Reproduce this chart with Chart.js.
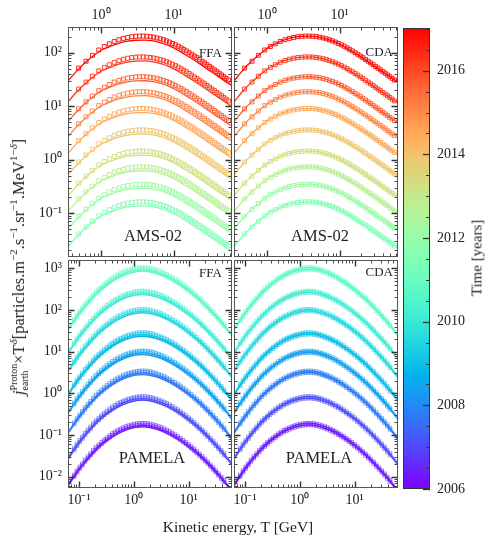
<!DOCTYPE html>
<html>
<head>
<meta charset="utf-8">
<script src="https://cdn.jsdelivr.net/npm/chart.js@4.4.1/dist/chart.umd.min.js"></script>
<style>
  body { margin: 0; background: #fff; }
  #wrap { position: relative; width: 488px; height: 541px; font-family: 'Liberation Serif', serif; color: #222; }
  #wrap canvas { position: absolute; left: 0; top: 0; }
  .lab { position: absolute; white-space: nowrap; line-height: 1; transform: translate(-50%, -50%); }
  .tag { position: absolute; white-space: nowrap; line-height: 1; transform: translate(-100%, -50%); font-size: 13px; }
  .big { font-size: 16.5px; }
  .axl { font-size: 15.5px; }
  #ylab { font-size: 16.5px; transform: translate(-50%, -50%) rotate(-90deg); }
  #ylab sup { font-size: 11px; }
  .ss { display: inline-block; vertical-align: -4px; font-size: 10px; line-height: 1.05; text-align: left; }
  .ss span { display: block; }
  #tlab { font-size: 15px; transform: translate(-50%, -50%) rotate(-90deg); }
</style>
</head>
<body>
<div id="wrap">
  <canvas id="tl" width="488" height="541"></canvas>
  <canvas id="tr" width="488" height="541"></canvas>
  <canvas id="bl" width="488" height="541"></canvas>
  <canvas id="br" width="488" height="541"></canvas>
  <canvas id="cb" width="488" height="541"></canvas>

  <div class="tag" style="left:222px; top:52px;">FFA</div>
  <div class="tag" style="left:393px; top:51px;">CDA</div>
  <div class="tag" style="left:222px; top:272px;">FFA</div>
  <div class="tag" style="left:393px; top:271px;">CDA</div>
  <div class="lab big" style="left:153px; top:236px;">AMS-02</div>
  <div class="lab big" style="left:320px; top:236px;">AMS-02</div>
  <div class="lab big" style="left:152px; top:458px;">PAMELA</div>
  <div class="lab big" style="left:319px; top:458px;">PAMELA</div>
  <div class="lab axl" style="left:238px; top:527px;">Kinetic energy, T [GeV]</div>
  <div class="lab" id="tlab" style="left:477px; top:258px;">Time [years]</div>
  <div class="lab" id="ylab" style="left:19px; top:267px;"><i>j</i><span class="ss"><span>Proton</span><span>earth</span></span>×T<sup><i>δ</i></sup>[particles.m<sup>−2</sup>.s<sup>−1</sup>.sr<sup>−1</sup>.MeV<sup>1−<i>δ</i></sup>]</div>
</div>

<script>
Chart.defaults.font.family = "'Liberation Serif', serif";
Chart.defaults.color = '#222';

// ---- data (log10 values) ----

// AMS-02 energy bins [GeV]
const AMS_T = [0.49, 0.62, 0.76, 0.93, 1.11, 1.30, 1.52, 1.77, 2.03, 2.33, 2.65, 3.01, 3.39, 3.81, 4.27,
  4.78, 5.32, 5.91, 6.55, 7.24, 7.98, 8.79, 9.65, 10.6, 11.6, 12.7, 13.8, 15.0, 16.4, 17.8,
  19.4, 21.0, 22.8, 24.8, 26.8, 29.0, 31.4, 33.9, 36.6, 39.5, 42.6, 45.9, 49.4, 53.2, 57.3];
// shape of the AMS-02 spectra, relative to the peak (log10)
const AMS_SHAPE = [-0.60, -0.47, -0.36, -0.26, -0.195, -0.145, -0.10, -0.068, -0.043, -0.025, -0.012, -0.004, 0, 0, -0.003,
  -0.01, -0.02, -0.034, -0.05, -0.068, -0.089, -0.112, -0.137, -0.163, -0.19, -0.22, -0.248, -0.277, -0.31, -0.34,
  -0.373, -0.404, -0.437, -0.47, -0.502, -0.534, -0.567, -0.599, -0.631, -0.664, -0.695, -0.727, -0.759, -0.79, -0.822];
// peak of each AMS-02 curve (log10), top to bottom, and its time
const AMS_PEAK = [2.31, 1.92, 1.55, 1.27, 0.955, 0.555, 0.16, -0.135, -0.46, -0.79];
const AMS_TIME = [2016.9, 2016.3, 2015.7, 2015.1, 2014.5, 2013.9, 2013.3, 2012.7, 2012.1, 2011.5];
// model curves for AMS-02
const AMS_MODEL_T = [0.35, 0.45, 0.6, 0.8, 1.0, 1.3, 1.7, 2.2, 3, 4, 5, 6.5, 8.5, 11, 14, 18, 23, 30, 38, 50, 64];
const AMS_CDA = [-0.84, -0.66, -0.48, -0.335, -0.23, -0.145, -0.075, -0.03, -0.003, 0, -0.013, -0.05, -0.105, -0.18, -0.265, -0.355, -0.45, -0.56, -0.655, -0.765, -0.86];
const AMS_FFA = [-0.84, -0.67, -0.50, -0.36, -0.265, -0.20, -0.14, -0.10, -0.078, -0.075, -0.086, -0.12, -0.175, -0.25, -0.335, -0.425, -0.52, -0.628, -0.722, -0.832, -0.925];

// PAMELA energy bins [GeV]
const PAM_T = [0.082, 0.092, 0.103, 0.115, 0.129, 0.145, 0.162, 0.182, 0.204, 0.229, 0.257, 0.288, 0.323, 0.362,
  0.406, 0.455, 0.510, 0.572, 0.641, 0.719, 0.806, 0.904, 1.01, 1.14, 1.27, 1.43, 1.60, 1.80,
  2.01, 2.26, 2.53, 2.84, 3.18, 3.57, 4.00, 4.49, 5.03, 5.64, 6.33, 7.09, 7.95, 8.92,
  10.0, 11.2, 12.6, 14.1, 15.8, 17.7, 19.9, 22.3, 25.0, 28.0, 31.4, 35.2, 39.5, 44.3];
const PAM_SHAPE = [-1.24, -1.14, -1.05, -0.97, -0.88, -0.80, -0.73, -0.65, -0.58, -0.52, -0.46, -0.40, -0.35, -0.30,
  -0.25, -0.21, -0.17, -0.14, -0.11, -0.08, -0.06, -0.04, -0.024, -0.012, -0.004, -0.001, 0, -0.009,
  -0.02, -0.036, -0.056, -0.079, -0.104, -0.133, -0.165, -0.199, -0.236, -0.275, -0.317, -0.362, -0.408, -0.457,
  -0.509, -0.562, -0.619, -0.676, -0.737, -0.798, -0.864, -0.929, -0.998, -1.067, -1.139, -1.213, -1.29, -1.367];
const PAM_PEAK = [3.02, 2.46, 2.02, 1.46, 1.02, 0.54, -0.075, -0.715];
const PAM_TIME = [2010.9, 2010.3, 2009.7, 2009.1, 2008.5, 2007.9, 2007.2, 2006.5];
// each PAMELA band holds two spectra
const PAM_SUB_SHIFT = [0, -0.04];
const PAM_SUB_DT = [0, -0.3];
const PAM_MODEL_T = [0.06, 0.1, 0.16, 0.25, 0.4, 0.63, 1.0, 1.5, 2.5, 4.0, 6.3, 10, 16, 25, 40, 63];
const PAM_CDA = [-1.51, -1.075, -0.74, -0.47, -0.26, -0.111, -0.025, 0, -0.054, -0.163, -0.317, -0.509, -0.738, -1.0, -1.295, -1.62];
const PAM_FFA = [-1.51, -1.085, -0.76, -0.50, -0.30, -0.155, -0.07, -0.05, -0.10, -0.20, -0.345, -0.53, -0.75, -1.005, -1.30, -1.62];

// axes
const DECADES = [0.01, 0.1, 1, 10, 100, 1000];
const DECADE_LABELS = ['10⁻²', '10⁻¹', '10⁰', '10¹', '10²', '10³'];
const YEAR_TICKS = [2006, 2008, 2010, 2012, 2014, 2016];
const YEAR_MIN = 2006, YEAR_MAX = 2017.02;

// ---- helpers ----

function rainbow(t, alpha = 1) {
    const x = Math.max(0, Math.min(1, (t - YEAR_MIN) / (YEAR_MAX - YEAR_MIN)));
    const r = Math.min(1, Math.abs(2 * x - 0.5));
    const g = Math.sin(Math.PI * x);
    const b = Math.cos(Math.PI * x / 2);
    return `rgba(${Math.round(r * 255)},${Math.round(g * 255)},${Math.round(b * 255)},${alpha})`;
}

function buildSets(times, peaks, subShift, subDt, dataT, dataShape, modelT, modelShape, marker) {
    const sets = [];
    times.forEach((t0, i) => {
        subShift.forEach((s, k) => {
            const col = rainbow(t0 + subDt[k]);
            sets.push({
                data: dataT.map((t, j) => ({ x: t, y: Math.pow(10, peaks[i] + s + dataShape[j]) })),
                showLine: false, pointStyle: 'rect', pointRadius: marker.r, pointBorderWidth: marker.w,
                pointBorderColor: rainbow(t0 + subDt[k], marker.a), pointBackgroundColor: 'rgba(0,0,0,0)',
                borderColor: col, clip: 0
            });
            sets.push({
                data: modelT.map((t, j) => ({ x: t, y: Math.pow(10, peaks[i] + s + modelShape[j]) })),
                pointRadius: 0, borderWidth: 1.3, borderColor: col, fill: false,
                cubicInterpolationMode: 'monotone', clip: 0
            });
        });
    });
    return sets;
}

// log axis with decade labels only; size is fixed so the chart area lands where we want it
function logAxis(min, max, position, show, padding, size) {
    return {
        type: 'logarithmic', min, max, position, display: show,
        grid: { display: false, drawTicks: false }, border: { display: false },
        ticks: {
            padding, autoSkip: false, maxRotation: 0,
            color: '#222', font: { size: 14 },
            callback: v => DECADE_LABELS[DECADES.findIndex(d => Math.abs(d - v) < d * 1e-6)] ?? ''
        },
        afterBuildTicks: s => { s.ticks = DECADES.filter(v => v >= min && v <= max).map(v => ({ value: v })); },
        afterFit: s => {
            const n = show ? size : 0;
            if (s.isHorizontal()) s.height = n; else s.width = n;
        }
    };
}

// inward ticks on all four sides + frame
const frameTicks = {
    id: 'frameTicks',
    afterDatasetsDraw(chart) {
        const { ctx, chartArea: a } = chart;
        const drawAxis = (scale, horizontal) => {
            const lo = Math.floor(Math.log10(scale.min)), hi = Math.ceil(Math.log10(scale.max));
            for (let k = lo; k <= hi; k++) {
                for (let m = 1; m <= 9; m++) {
                    const v = m * Math.pow(10, k);
                    if (v < scale.min || v > scale.max) continue;
                    const major = m === 1;
                    const len = major ? 6.5 : 3.5;
                    const p = Math.round(scale.getPixelForValue(v)) + 0.5;
                    ctx.lineWidth = major ? 1.4 : 0.9;
                    ctx.beginPath();
                    if (horizontal) {
                        ctx.moveTo(p, a.top); ctx.lineTo(p, a.top + len);
                        ctx.moveTo(p, a.bottom); ctx.lineTo(p, a.bottom - len);
                    } else {
                        ctx.moveTo(a.left, p); ctx.lineTo(a.left + len, p);
                        ctx.moveTo(a.right, p); ctx.lineTo(a.right - len, p);
                    }
                    ctx.stroke();
                }
            }
        };
        ctx.save();
        ctx.strokeStyle = '#333';
        drawAxis(chart.scales.x, true);
        drawAxis(chart.scales.y, false);
        ctx.strokeStyle = '#555';
        ctx.lineWidth = 1;
        ctx.strokeRect(a.left + 0.5, a.top + 0.5, a.width - 1, a.height - 1);
        ctx.restore();
    }
};

const Y_AXIS_W = 50, TOP_AXIS_H = 24, BOT_AXIS_H = 30;

function makePanel(id, box, xr, yr, xPos, showY, datasets) {
    const xSize = xPos === 'top' ? TOP_AXIS_H : BOT_AXIS_H;
    const pad = {
        left: box[0] - (showY ? Y_AXIS_W : 0),
        right: 488 - box[2],
        top: box[1] - (xPos === 'top' ? xSize : 0),
        bottom: 541 - box[3] - (xPos === 'bottom' ? xSize : 0)
    };
    new Chart(document.getElementById(id), {
        type: 'line',
        data: { datasets },
        options: {
            responsive: false, animation: false, devicePixelRatio: 1,
            layout: { padding: pad },
            plugins: { legend: { display: false }, tooltip: { enabled: false } },
            scales: {
                x: logAxis(xr[0], xr[1], xPos, true, xPos === 'top' ? 3 : 4, xSize),
                y: logAxis(yr[0], yr[1], 'left', showY, 6, Y_AXIS_W)
            }
        },
        plugins: [frameTicks]
    });
}

// ---- panels ----
const TOP_X = [0.35, 64], BOT_X = [0.063, 62];
const TOP_Y = [0.0151, 302], BOT_Y = [0.00536, 1581];
const AMS_MARK = { r: 2.8, w: 1, a: 0.9 };
const PAM_MARK = { r: 2.5, w: 0.9, a: 0.6 };

makePanel('tl', [68, 27, 232, 257], TOP_X, TOP_Y, 'top', true,
    buildSets(AMS_TIME, AMS_PEAK, [0], [0], AMS_T, AMS_SHAPE, AMS_MODEL_T, AMS_FFA, AMS_MARK));
makePanel('tr', [234, 27, 398, 257], TOP_X, TOP_Y, 'top', false,
    buildSets(AMS_TIME, AMS_PEAK, [0], [0], AMS_T, AMS_SHAPE, AMS_MODEL_T, AMS_CDA, AMS_MARK));
makePanel('bl', [68, 260, 232, 488], BOT_X, BOT_Y, 'bottom', true,
    buildSets(PAM_TIME, PAM_PEAK, PAM_SUB_SHIFT, PAM_SUB_DT, PAM_T, PAM_SHAPE, PAM_MODEL_T, PAM_FFA, PAM_MARK));
makePanel('br', [234, 260, 398, 488], BOT_X, BOT_Y, 'bottom', false,
    buildSets(PAM_TIME, PAM_PEAK, PAM_SUB_SHIFT, PAM_SUB_DT, PAM_T, PAM_SHAPE, PAM_MODEL_T, PAM_CDA, PAM_MARK));

// ---- colour bar ----
const cbTicks = {
    id: 'cbTicks',
    afterDatasetsDraw(chart) {
        const { ctx, chartArea: a } = chart;
        const y = chart.scales.y;
        ctx.save();
        ctx.strokeStyle = '#333';
        for (let v = YEAR_MIN; v <= YEAR_MAX; v += 0.5) {
            const major = YEAR_TICKS.includes(v);
            const p = Math.round(y.getPixelForValue(v)) + 0.5;
            ctx.lineWidth = major ? 1.3 : 1;
            ctx.beginPath();
            ctx.moveTo(a.right, p);
            ctx.lineTo(a.right - (major ? 7 : 4), p);
            ctx.stroke();
        }
        ctx.lineWidth = 1;
        ctx.strokeRect(a.left + 0.5, a.top + 0.5, a.width - 1, a.height - 1);
        ctx.restore();
    }
};

new Chart(document.getElementById('cb'), {
    type: 'bar',
    data: {
        labels: ['time'],
        datasets: [{
            data: [[YEAR_MIN, YEAR_MAX]],
            barPercentage: 1, categoryPercentage: 1, borderWidth: 0,
            backgroundColor: (c) => {
                const a = c.chart.chartArea;
                if (!a) return '#888';
                const g = c.chart.ctx.createLinearGradient(0, a.bottom, 0, a.top);
                for (let i = 0; i <= 40; i++) {
                    g.addColorStop(i / 40, rainbow(YEAR_MIN + i / 40 * (YEAR_MAX - YEAR_MIN)));
                }
                return g;
            }
        }]
    },
    options: {
        responsive: false, animation: false, devicePixelRatio: 1,
        layout: { padding: { left: 403, top: 28, right: 488 - 430 - 40, bottom: 541 - 489 } },
        plugins: { legend: { display: false }, tooltip: { enabled: false } },
        scales: {
            x: { display: false },
            y: {
                type: 'linear', min: YEAR_MIN, max: YEAR_MAX, position: 'right',
                grid: { display: false, drawTicks: false }, border: { display: false },
                ticks: { padding: 7, color: '#222', font: { size: 14 }, autoSkip: false, callback: v => String(v) },
                afterBuildTicks: s => { s.ticks = YEAR_TICKS.map(v => ({ value: v })); },
                afterFit: s => { s.width = 40; }
            }
        }
    },
    plugins: [cbTicks]
});
</script>
</body>
</html>
